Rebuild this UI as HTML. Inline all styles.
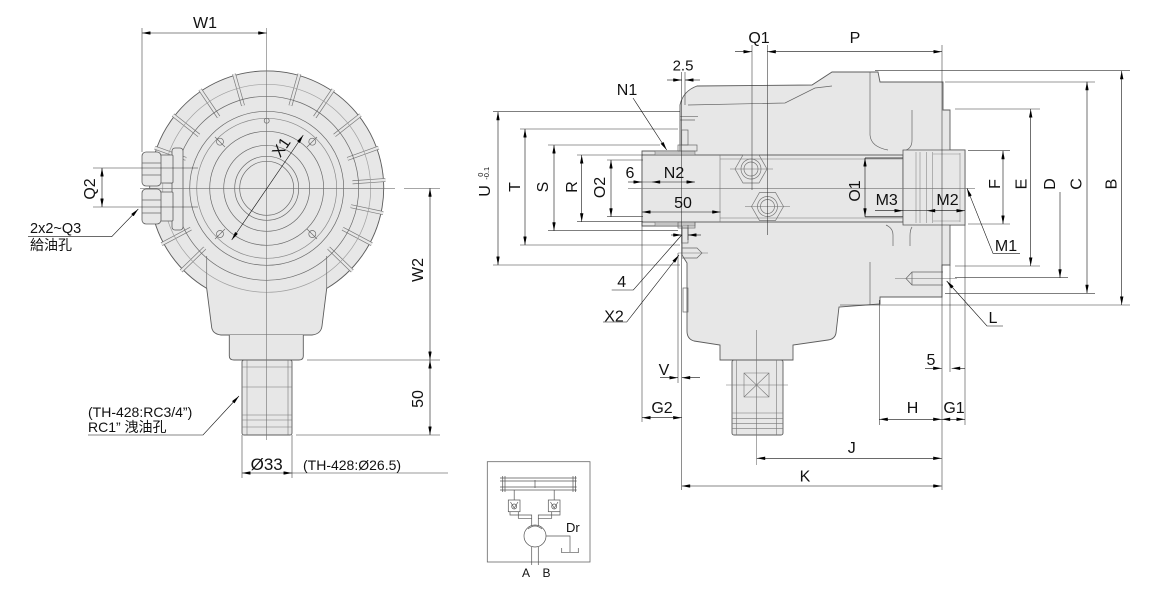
<!DOCTYPE html>
<html>
<head>
<meta charset="utf-8">
<style>
html,body{margin:0;padding:0;background:#fff;}
svg{display:block;}
text{font-family:"Liberation Sans","Noto Sans CJK TC",sans-serif;fill:#111;}
</style>
</head>
<body>
<svg width="1163" height="592" viewBox="0 0 1163 592" xmlns="http://www.w3.org/2000/svg">
<defs>
<marker id="a" viewBox="0 0 10 4" refX="10" refY="2" markerWidth="9" markerHeight="3.4" markerUnits="userSpaceOnUse" orient="auto-start-reverse"><path d="M0,0L10,2L0,4z" fill="#000"/></marker>
</defs>
<rect width="1163" height="592" fill="#fff"/>

<!-- ================= LEFT VIEW ================= -->
<g fill="#e7e7e7" stroke="#5c5c5c" stroke-width="0.9">
<path d="M206.7,288.4 A117,117 0 1,1 326.7,288.4 L322,326 Q321,334 312,335 L221,335 Q212,334 211.5,326 Z"/>
<path d="M229.3,335 L229.3,356 Q229.3,360 234,360 L299,360 Q303.3,360 303.3,356 L303.3,335"/>
<rect x="242" y="360" width="50" height="75" rx="2"/>
</g>
<!-- ribs -->
<g stroke-linecap="butt" fill="none">
<path stroke="#7a7a7a" stroke-width="3.8" d="M290.4,105.6L299.4,74 M243,105.6L234,74 M314.8,117L333.3,89.6 M218.6,117L200.1,89.6 M334.5,135.4L360.4,115 M198.9,135.4L173,115 M347.5,158.9L378.6,147.6 M185.9,158.9L154.8,147.6 M352.5,182.3L385.4,180 M180.9,182.3L148,180 M350.8,206.2L383.1,213.1 M182.6,206.2L150.3,213.1 M342.6,228.7L371.8,244.2 M190.8,228.7L161.6,244.2 M328.6,248L352.3,271 M204.8,248L181.1,271"/>
<path stroke="#e7e7e7" stroke-width="2.4" d="M290.4,105.6L299.4,74 M243,105.6L234,74 M314.8,117L333.3,89.6 M218.6,117L200.1,89.6 M334.5,135.4L360.4,115 M198.9,135.4L173,115 M347.5,158.9L378.6,147.6 M185.9,158.9L154.8,147.6 M352.5,182.3L385.4,180 M180.9,182.3L148,180 M350.8,206.2L383.1,213.1 M182.6,206.2L150.3,213.1 M342.6,228.7L371.8,244.2 M190.8,228.7L161.6,244.2 M328.6,248L352.3,271 M204.8,248L181.1,271"/>
</g>
<g fill="none" stroke="#6a6a6a" stroke-width="0.7">
<circle cx="266.7" cy="188.3" r="104" stroke="#a0a0a0"/>
<circle cx="266.7" cy="188.3" r="92"/>
<circle cx="266.7" cy="188.3" r="77"/>
<circle cx="266.7" cy="188.3" r="70" stroke="#8a8a8a"/>
<circle cx="266.7" cy="188.3" r="57"/>
<circle cx="266.7" cy="188.3" r="43"/>
<circle cx="266.7" cy="188.3" r="32"/>
<circle cx="266.7" cy="188.3" r="27"/>
<circle cx="220" cy="141.7" r="3.5"/>
<circle cx="312.3" cy="141.7" r="3.5"/>
<circle cx="220" cy="234" r="3.5"/>
<circle cx="312.3" cy="234" r="3.5"/>
<circle cx="266.7" cy="120.7" r="2.5"/>
<path d="M215,137L225,147 M307,147L317,137 M215,239L225,229 M307,229L317,239"/>
<path d="M206.7,256V288 M326.7,256V288"/>
</g>
<!-- nuts -->
<g fill="#e7e7e7" stroke="#5c5c5c" stroke-width="0.8">
<rect x="172" y="148" width="11" height="82" rx="3"/>
<rect x="160" y="155" width="13" height="28" rx="1"/>
<rect x="160" y="192" width="13" height="29" rx="1"/>
<rect x="142" y="152" width="19" height="34" rx="4"/>
<rect x="142" y="189" width="19" height="35" rx="4"/>
</g>
<path d="M142,163H161 M142,175H161 M142,200H161 M142,213H161" stroke="#6a6a6a" stroke-width="0.7" fill="none"/>
<!-- port lines -->
<path d="M247,360V435 M288,360V435 M242,367H292 M242,387H292 M242,415H292 M242,420H292 M242,427H292" stroke="#777" stroke-width="0.6" fill="none"/>
<!-- center lines -->
<path d="M266.7,28V440 M140,188.3H395 M404,188.3H440" stroke="#707070" stroke-width="0.6" fill="none"/>
<!-- ext lines -->
<path d="M142,28V152 M93,168H198 M93,207H198 M307,360H440 M296,435H440 M242,435V478 M292,435V478 M292,473H448" stroke="#333" stroke-width="0.55" fill="none"/>
<!-- dims -->
<g stroke="#111" stroke-width="0.6" fill="none" marker-start="url(#a)" marker-end="url(#a)">
<path d="M142,33H266.7"/>
<path d="M102,168V207"/>
<path d="M430,188.3V360"/>
<path d="M430,360V435"/>
<path d="M242,473H292"/>
<path d="M231.7,240L303.3,135"/>
</g>
<g stroke="#111" stroke-width="0.6" fill="none" marker-end="url(#a)">
<path d="M28,236.7H111.7L138.3,209"/>
<path d="M88,435H203L239,396"/>
</g>
<!-- left texts -->
<text x="205" y="28" font-size="16" text-anchor="middle">W1</text>
<text transform="translate(95,189) rotate(-90)" font-size="16" text-anchor="middle">Q2</text>
<text transform="translate(281,147) rotate(-56)" font-size="16" text-anchor="middle" y="5.7">X1</text>
<text x="30" y="233" font-size="14.5">2x2~Q3</text>
<text x="30" y="250" font-size="14">給油孔</text>
<text transform="translate(423,270) rotate(-90)" font-size="16" text-anchor="middle">W2</text>
<text transform="translate(423,399) rotate(-90)" font-size="16" text-anchor="middle">50</text>
<text x="88" y="417" font-size="14">(TH-428:RC3/4”)</text>
<text x="88" y="432" font-size="14">RC1”  洩油孔</text>
<text x="266.7" y="470" font-size="17" text-anchor="middle">Ø33</text>
<text x="303" y="470" font-size="14">(TH-428:Ø26.5)</text>

<!-- ================= RIGHT VIEW ================= -->
<path fill="#e7e7e7" stroke="#5c5c5c" stroke-width="0.9" d="M680,105 Q683,91 697,86 L812,85 L832,72 L878,72 L880,82 L943,82 L943,110 L950,110 L950,150 L965,150 L965,225 L950,225 L950,265 L942,265 L942,297 L880,297 L880,304 L839,307 L836,333 Q835,339 828,340 L793,345 L793,360 L720,360 L720,345 L694,341 Q687,339 687,331 L687,263 L682,255 L682,226 L642,226 L642,151 L680,151 Z"/>
<rect x="732" y="360" width="51" height="75" rx="2" fill="#e7e7e7" stroke="#5c5c5c" stroke-width="0.9"/>
<path d="M736.7,360V435 M776.7,360V435 M732,413H783 M732,418.3H783 M732,423.3H783 M732,428.3H783 M744,373H769V397H744Z M744,373L769,397 M769,373L744,397" stroke="#777" stroke-width="0.6" fill="none"/>
<!-- shaft -->
<rect x="642" y="155" width="261" height="67" fill="#e7e7e7" stroke="#555" stroke-width="0.9"/>
<path d="M903,150H965V225H903Z" fill="#e7e7e7" stroke="#555" stroke-width="0.8"/>
<rect x="655" y="151" width="40" height="4" fill="#c4c4c4" stroke="#666" stroke-width="0.5"/>
<rect x="655" y="222" width="40" height="4" fill="#c4c4c4" stroke="#666" stroke-width="0.5"/>
<path d="M720,155V222 M720,159H903 M720,218H903" stroke="#777" stroke-width="0.6" fill="none"/>
<path d="M916,152V223 M920,152V223 M926.7,152V223 M932.7,152V223 M960,153V222 M932.7,154H960 M932.7,221H960" stroke="#8a8a8a" stroke-width="0.6" fill="none"/>
<path d="M865,158H903 M865,216.7H903" stroke="#444" stroke-width="1" fill="none"/>
<!-- hex fittings -->
<g fill="none" stroke="#777" stroke-width="0.7">
<polygon points="735,169 743,155 759,155 767,169 759,183 743,183"/>
<circle cx="751" cy="169" r="10"/><circle cx="751" cy="169" r="7"/>
<polygon points="751.5,206.5 759.5,192.5 775.5,192.5 783.5,206.5 775.5,220.5 759.5,220.5"/>
<circle cx="767.5" cy="206.5" r="10"/><circle cx="767.5" cy="206.5" r="7"/>
</g>
<!-- body details -->
<g fill="none" stroke="#666" stroke-width="0.7">
<path d="M680,116.7H698 M680,120H695"/>
<rect x="681.7" y="130" width="6.3" height="15"/>
<rect x="678" y="145" width="19" height="6"/>
<rect x="678" y="222" width="17" height="6"/>
<rect x="681.7" y="228" width="6.3" height="15"/>
<path d="M688,105L785,103L815,88L832,86"/>
<path d="M870,72V135Q871,147 888,150 M912,110V140Q912,148 906,150"/>
<path d="M886,225Q893,228 893,235V246 M912,227Q910,230 910,236V246 M870,262V305"/>
<path d="M682,248H697L702,253L697,258H682"/>
<path d="M943,272H912L906,278.5L912,285H943 M912,272V285"/>
<rect x="683" y="288" width="5" height="24"/>
</g>
<!-- center lines -->
<path d="M628,188.3H975 M756.7,330V465 M730,169H773 M745,206.5H790 M726,385H788 M678,253H708 M895,278.5H957" stroke="#707070" stroke-width="0.6" fill="none"/>
<!-- ext lines -->
<path d="M752,45V190 M767.3,45V235 M942,45V490 M681.7,72V490 M685,72V105 M493,111.7H680 M493,265H680 M520,129H678 M520,245H680 M548,145H660 M548,230.7H678 M577,155H643 M577,221.7H643 M607,160H643 M607,216.7H643 M642,222V422 M678,253V383 M688,225V240 M879.3,300V425 M950,265V372 M965,225V425 M875,70.7H1130 M945,82H1095 M955,109H1040 M968,150.7H1010 M968,224H1010 M955,266H1040 M955,277.7H1068 M945,293.3H1095 M840,305H1130 M642,182H651.7 M903,210.7H926.7" stroke="#333" stroke-width="0.55" fill="none"/>
<!-- dims both arrows -->
<g stroke="#111" stroke-width="0.6" fill="none" marker-start="url(#a)" marker-end="url(#a)">
<path d="M767.3,51.7H942"/>
<path d="M498,111.7V265"/>
<path d="M525,129V245"/>
<path d="M554,145V230.7"/>
<path d="M581.7,155V221.7"/>
<path d="M611,160V216.7"/>
<path d="M651.7,182H695"/>
<path d="M642,212H720.7"/>
<path d="M865,158V216.7"/>
<path d="M926.7,210.7H965"/>
<path d="M1003,150.7V224"/>
<path d="M1030.7,109V266"/>
<path d="M1087,81.7V293.3"/>
<path d="M1121.7,70.7V305"/>
<path d="M879.3,419.3H941.7"/>
<path d="M941.7,419.3H965"/>
<path d="M756.7,458.3H941.7"/>
<path d="M681.7,486H941.7"/>
<path d="M642,417.7H681.7"/>
</g>
<!-- end arrows -->
<g stroke="#111" stroke-width="0.6" fill="none" marker-end="url(#a)">
<path d="M735,51.7H752"/>
<path d="M667,80H681.7"/>
<path d="M628,182H642"/>
<path d="M671,235H681.7"/>
<path d="M875,210.7H903"/>
<path d="M1060,192V277.7"/>
<path d="M925,368.3H941.7"/>
<path d="M660,377.7H678"/>
<path d="M633,98L666.7,150"/>
<path d="M603,322H626.7L679,255"/>
<path d="M1020,253.3H993L967,188.3"/>
<path d="M1003,326H987L946.7,281"/>
</g>
<!-- start arrows -->
<g stroke="#111" stroke-width="0.6" fill="none" marker-start="url(#a)">
<path d="M685,80H700"/>
<path d="M688,235H701"/>
<path d="M951.7,368.3H965"/>
<path d="M681.7,377.7H700"/>
</g>
<path d="M611.7,290H633.3L681.7,235" stroke="#111" stroke-width="0.6" fill="none"/>

<!-- right texts -->
<g font-size="16" text-anchor="middle">
<text x="759" y="43">Q1</text>
<text x="855" y="43">P</text>
<text x="683" y="70.5" font-size="15">2.5</text>
<text x="627" y="95">N1</text>
<text x="630" y="178">6</text>
<text x="674" y="178">N2</text>
<text x="683" y="208">50</text>
<text x="621.7" y="287">4</text>
<text x="614" y="321.7">X2</text>
<text x="664" y="375">V</text>
<text x="662" y="413">G2</text>
<text x="912.5" y="413">H</text>
<text x="954" y="413">G1</text>
<text x="931" y="365">5</text>
<text x="851.7" y="453">J</text>
<text x="805" y="481.5">K</text>
<text x="993" y="323">L</text>
<text x="1006" y="251">M1</text>
<text x="886.7" y="205">M3</text>
<text x="947.5" y="205">M2</text>
<text transform="translate(520,187) rotate(-90)">T</text>
<text transform="translate(548,187) rotate(-90)">S</text>
<text transform="translate(577,187) rotate(-90)">R</text>
<text transform="translate(605,187.5) rotate(-90)">O2</text>
<text transform="translate(860,191) rotate(-90)">O1</text>
<text transform="translate(1000,184) rotate(-90)">F</text>
<text transform="translate(1026.7,184) rotate(-90)">E</text>
<text transform="translate(1055,184) rotate(-90)">D</text>
<text transform="translate(1081.7,184) rotate(-90)">C</text>
<text transform="translate(1116.7,184) rotate(-90)">B</text>
</g>
<g transform="translate(490,196.7) rotate(-90)">
<text x="0" y="0" font-size="16">U</text>
<text x="20" y="-7" font-size="7.5">0</text>
<text x="17" y="-1" font-size="7.5">-0.1</text>
</g>

<!-- ================= HYDRAULIC SYMBOL ================= -->
<rect x="487.3" y="461.7" width="102.7" height="100.3" fill="none" stroke="#666" stroke-width="0.8"/>
<g fill="none" stroke="#555" stroke-width="0.7">
<path d="M500,478H576.7 M500,481H576.7 M500,487H576.7 M500,490H576.7"/>
<path d="M502.7,476V492 M505,476V492 M573,476V492 M575.5,476V492 M535,480V488"/>
<rect x="508.3" y="500" width="11.7" height="11.7"/>
<rect x="548.3" y="500" width="11.7" height="11.7"/>
<circle cx="514.2" cy="506.5" r="2.5"/>
<circle cx="554.2" cy="506.5" r="2.5"/>
<path d="M510.5,502L514.2,508L518,502 M550.5,502L554.2,508L558,502"/>
<path d="M514.2,490V500 M554.2,490V500"/>
<path d="M510,511.7V515H531.7V525.5 M518.3,511.7V518.3H531.7"/>
<path d="M560,511.7V515H538.3V525.5 M551.7,511.7V518.3H538.3"/>
<circle cx="535" cy="536" r="11"/>
<path d="M528,529Q535,523 542,529"/>
<path d="M531.7,547V565 M538.3,547V565"/>
<path d="M546,536H570V552 M561.7,548V552.7H578.3V548"/>
</g>
<text x="526" y="577" font-size="12" text-anchor="middle">A</text>
<text x="546.5" y="577" font-size="12" text-anchor="middle">B</text>
<text x="566" y="532" font-size="13">Dr</text>
</svg>
</body>
</html>
